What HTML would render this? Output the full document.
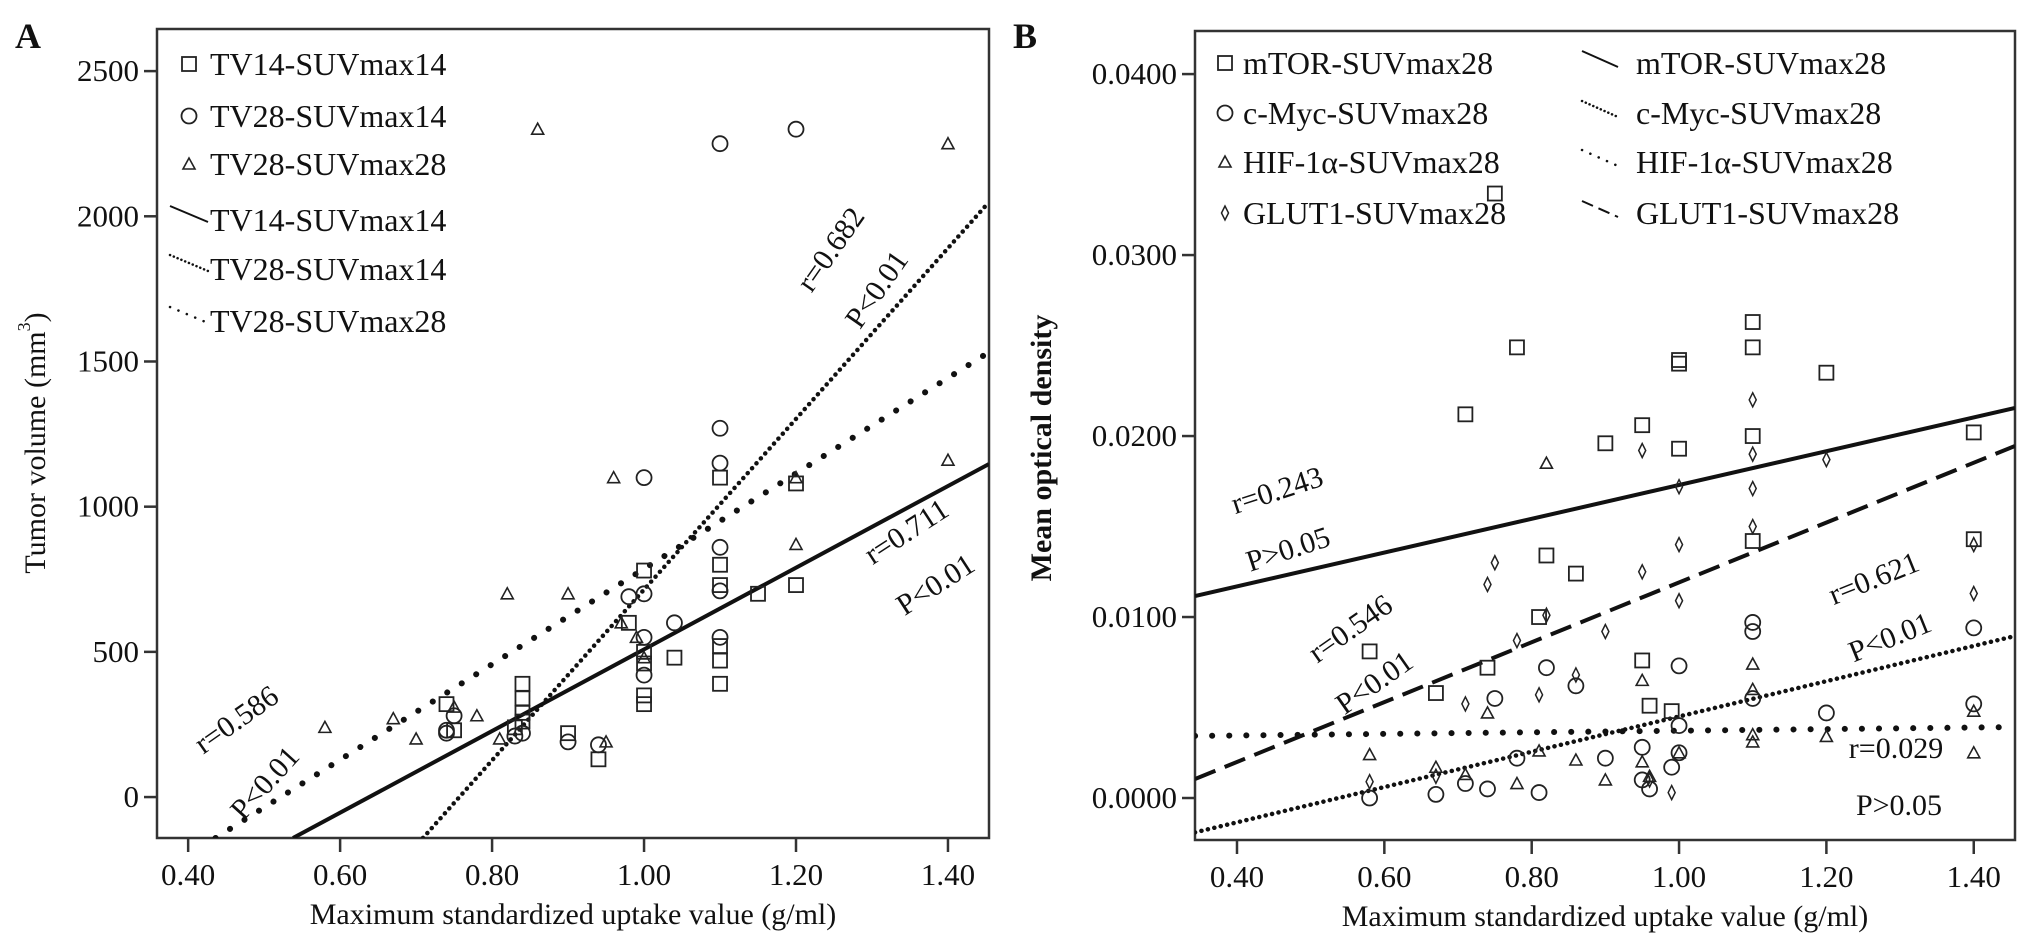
<!DOCTYPE html>
<html><head><meta charset="utf-8"><style>
html,body{margin:0;padding:0;background:#fff;}
svg{display:block;font-family:"Liberation Serif",serif;}
</style></head><body>
<svg id="chart" width="2031" height="947" viewBox="0 0 2031 947" xmlns="http://www.w3.org/2000/svg">
<g id="gA"></g>
<g id="gB"></g>
</svg>
<script>
// Panel A data
const aXTicks = [0.40, 0.60, 0.80, 1.00, 1.20, 1.40];
const aYTicks = [0, 500, 1000, 1500, 2000, 2500];
const aTV14 = [[0.74,320],[0.75,230],[0.84,390],[0.84,340],[0.84,290],[0.84,260],[0.83,240],[0.90,220],[0.94,130],[0.98,600],[1.00,780],[1.00,500],[1.00,460],[1.00,350],[1.00,320],[1.04,480],[1.10,1100],[1.10,800],[1.10,730],[1.10,520],[1.10,470],[1.10,390],[1.15,700],[1.20,1080],[1.20,730]];
const aTV28s14 = [[1.10,2250],[1.20,2300],[1.00,1100],[1.10,1270],[1.10,1150],[1.10,860],[1.10,710],[1.10,550],[1.00,700],[0.98,690],[1.04,600],[0.94,180],[0.90,190],[0.84,220],[0.83,210],[0.74,230],[0.75,280],[1.00,420],[1.00,550],[0.74,220]];
const aTV28s28 = [[0.86,2300],[1.40,2250],[0.96,1100],[1.40,1160],[1.20,870],[0.82,700],[0.90,700],[0.58,240],[0.67,270],[0.70,200],[0.75,310],[0.78,280],[0.81,200],[0.95,190],[0.99,550],[0.97,600],[1.00,480],[1.20,1100]];
const aFitTV14 = [0.538,-141,1.454,1147];
const aFitTV28s14 = [0.709,-141,1.454,2049];
const aFitTV28s28 = [0.436,-141,1.454,1532];
// Panel B data
const bXTicks = [0.40, 0.60, 0.80, 1.00, 1.20, 1.40];
const bYTicks = [0, 0.01, 0.02, 0.03, 0.04];
const bYTickLabels = ["0.0000","0.0100","0.0200","0.0300","0.0400"];
const bMTOR = [[0.58,0.0081],[0.67,0.0058],[0.71,0.0212],[0.74,0.0072],[0.75,0.0334],[0.78,0.0249],[0.81,0.0100],[0.82,0.0134],[0.86,0.0124],[0.90,0.0196],[0.95,0.0206],[0.95,0.0076],[0.96,0.0051],[0.99,0.0048],[1.00,0.0242],[1.00,0.0240],[1.00,0.0193],[1.10,0.0263],[1.10,0.0249],[1.10,0.0200],[1.10,0.0142],[1.20,0.0235],[1.40,0.0202],[1.40,0.0143]];
const bMYC = [[0.58,0.0000],[0.67,0.0002],[0.71,0.0008],[0.74,0.0005],[0.75,0.0055],[0.78,0.0022],[0.81,0.0003],[0.82,0.0072],[0.86,0.0062],[0.90,0.0022],[0.95,0.0028],[0.95,0.0010],[0.96,0.0005],[0.99,0.0017],[1.00,0.0073],[1.00,0.0040],[1.00,0.0025],[1.10,0.0097],[1.10,0.0092],[1.10,0.0055],[1.20,0.0047],[1.40,0.0094],[1.40,0.0052]];
const bHIF = [[0.58,0.0024],[0.67,0.0017],[0.71,0.0013],[0.74,0.0047],[0.78,0.0008],[0.81,0.0026],[0.82,0.0185],[0.86,0.0021],[0.90,0.0010],[0.95,0.0065],[0.95,0.0020],[0.96,0.0012],[1.00,0.0025],[1.10,0.0074],[1.10,0.0060],[1.10,0.0035],[1.10,0.0031],[1.20,0.0034],[1.40,0.0048],[1.40,0.0025]];
const bGLUT = [[0.58,0.0009],[0.67,0.0012],[0.71,0.0052],[0.74,0.0118],[0.75,0.0130],[0.78,0.0087],[0.81,0.0057],[0.82,0.0101],[0.86,0.0068],[0.90,0.0092],[0.95,0.0192],[0.95,0.0125],[0.96,0.0010],[0.99,0.0003],[1.00,0.0172],[1.00,0.0140],[1.00,0.0109],[1.10,0.0220],[1.10,0.0190],[1.10,0.0171],[1.10,0.0150],[1.20,0.0187],[1.40,0.0140],[1.40,0.0113]];
const bFitMTOR = [0.343,0.01116,1.456,0.02155];
const bFitMYC = [0.343,-0.0019,1.456,0.00895];
const bFitHIF = [0.343,0.00343,1.456,0.00392];
const bFitGLUT = [0.343,0.00105,1.456,0.01945];

const NS="http://www.w3.org/2000/svg";
function mk(parent,tag,attrs,text){const e=document.createElementNS(NS,tag);for(const k in attrs)e.setAttribute(k,attrs[k]);if(text!==undefined)e.textContent=text;parent.appendChild(e);return e;}
function scale(d0,d1,r0,r1){return v=>r0+(v-d0)/(d1-d0)*(r1-r0);}

function marker(g,type,cx,cy){
  let e;
  if(type==='sq') e=mk(g,'rect',{x:cx-7,y:cy-7,width:14,height:14,fill:'none',stroke:'#222','stroke-width':1.8});
  else if(type==='ci') e=mk(g,'circle',{cx:cx,cy:cy,r:7.5,fill:'none',stroke:'#222','stroke-width':1.8});
  else if(type==='tr') e=mk(g,'polygon',{points:`${cx},${cy-6} ${cx-6},${cy+5} ${cx+6},${cy+5}`,fill:'none',stroke:'#222','stroke-width':1.6});
  else e=mk(g,'polygon',{points:`${cx},${cy-7} ${cx-3.5},${cy} ${cx},${cy+7} ${cx+3.5},${cy}`,fill:'none',stroke:'#222','stroke-width':1.5});
  return e;
}
function rtext(g,txt,x,y,rot,name,size){
  const t=mk(g,'text',{x:x,y:y,'font-size':size||30,'text-anchor':'middle','dominant-baseline':'middle',fill:'#111',transform:`rotate(${rot} ${x} ${y})`},txt);
  
  
}
const dashes={solid:'',dense:'0.1 6.5',dashed:'22 10',loose:'0.1 17'};
const caps={solid:'butt',dashed:'butt',dense:'round',loose:'round'};

function panel(g,cfg){
  const sx=scale(cfg.xd[0],cfg.xd[1],cfg.L,cfg.R), sy=scale(cfg.yd[0],cfg.yd[1],cfg.B,cfg.T);
  const frame=mk(g,'rect',{x:cfg.L,y:cfg.T,width:cfg.R-cfg.L,height:cfg.B-cfg.T,fill:'none',stroke:'#333','stroke-width':2.5});
  
  
  cfg.xt.forEach(v=>{
    const x=sx(v);
    const tk=mk(g,'line',{x1:x,y1:cfg.B,x2:x,y2:cfg.B+14,stroke:'#333','stroke-width':2.5});
    
    
    const t=mk(g,'text',{x:x,y:cfg.B+47,'font-size':31,'text-anchor':'middle',fill:'#111'},v.toFixed(2));
    
    
  });
  cfg.yt.forEach((v,i)=>{
    const y=sy(v);
    const tk=mk(g,'line',{x1:cfg.L-13,y1:y,x2:cfg.L,y2:y,stroke:'#333','stroke-width':2.5});
    
    
    const t=mk(g,'text',{x:cfg.L-18,y:y+10,'font-size':31,'text-anchor':'end',fill:'#111'},cfg.ytl?cfg.ytl[i]:String(v));
    
    
  });
  const clip=mk(g,'clipPath',{id:cfg.id+'clip'});
  mk(clip,'rect',{x:cfg.L,y:cfg.T,width:cfg.R-cfg.L,height:cfg.B-cfg.T});
  const lg=mk(g,'g',{'clip-path':`url(#${cfg.id}clip)`});
  cfg.fits.forEach(f=>{
    const d=f.d;
    const ln=mk(lg,'line',{x1:sx(d[0]),y1:sy(d[1]),x2:sx(d[2]),y2:sy(d[3]),stroke:'#111','stroke-width':f.w||3.5,'stroke-dasharray':dashes[f.style],'stroke-linecap':caps[f.style]});
    
    
  });
  cfg.series.forEach(s=>{
    s.data.forEach(p=>{
      const m=marker(g,s.type,sx(p[0]),sy(p[1]));
      
      
    });
  });
  const xl=mk(g,'text',{x:(cfg.L+cfg.R)/2,y:cfg.B+86,'font-size':30,'text-anchor':'middle',fill:'#111'},'Maximum standardized uptake value (g/ml)');
  
  
}

// Panel A
const gA=document.getElementById('gA');
panel(gA,{id:'a',L:157,R:989,T:29,B:838,xd:[0.359,1.454],yd:[-141,2645],xt:aXTicks,yt:aYTicks,
  fits:[{d:aFitTV14,style:'solid',name:'fit-line-tv14-suvmax14',w:4},
        {d:aFitTV28s14,style:'dense',name:'fit-line-tv28-suvmax14',w:4.5},
        {d:aFitTV28s28,style:'loose',name:'fit-line-tv28-suvmax28',w:6}],
  series:[{data:aTV14,type:'sq',name:'point-tv14-suvmax14'},{data:aTV28s14,type:'ci',name:'point-tv28-suvmax14'},{data:aTV28s28,type:'tr',name:'point-tv28-suvmax28'}]});
// Panel B
const gB=document.getElementById('gB');
panel(gB,{id:'b',L:1195,R:2015,T:31,B:840,xd:[0.343,1.456],yd:[-0.00232,0.04238],xt:bXTicks,yt:bYTicks,ytl:bYTickLabels,
  fits:[{d:bFitMTOR,style:'solid',name:'fit-line-mtor',w:4},
        {d:bFitMYC,style:'dense',name:'fit-line-c-myc',w:4.5},
        {d:bFitHIF,style:'loose',name:'fit-line-hif-1a',w:6},
        {d:bFitGLUT,style:'dashed',name:'fit-line-glut1',w:4}],
  series:[{data:bMTOR,type:'sq',name:'point-mtor'},{data:bMYC,type:'ci',name:'point-c-myc'},{data:bHIF,type:'tr',name:'point-hif-1a'},{data:bGLUT,type:'di',name:'point-glut1'}]});

// Panel labels and axis titles
function txt(g,s,x,y,attrs,name){const t=mk(g,'text',Object.assign({x:x,y:y,fill:'#111'},attrs),s);return t;}
txt(gA,'A',15,48,{'font-size':36,'font-weight':'bold'},'panel-label-a');
txt(gB,'B',1013,48,{'font-size':36,'font-weight':'bold'},'panel-label-b');
const ya=txt(gA,'',38,443,{'font-size':30,'text-anchor':'middle',transform:'rotate(-90 38 443)','dominant-baseline':'middle'},'y-axis-title-a');
ya.innerHTML='Tumor volume (mm<tspan font-size="18" dy="-12">3</tspan><tspan dy="12">)</tspan>';
txt(gB,'Mean optical density',1044,448,{'font-size':30,'font-weight':'bold','text-anchor':'middle',transform:'rotate(-90 1044 448)','dominant-baseline':'middle'},'y-axis-title-b');

const legDash={solid:'',dense:'0.1 4',loose:'0.1 9',dashed:'12 6'};
// Legend A
const legA=[['sq','TV14-SUVmax14',64],['ci','TV28-SUVmax14',116],['tr','TV28-SUVmax28',164],['solid','TV14-SUVmax14',220],['dense','TV28-SUVmax14',269],['loose','TV28-SUVmax28',321]];
legA.forEach(l=>{
  const g=mk(gA,'g',{});
  
  
  if(['sq','ci','tr'].includes(l[0])) marker(g,l[0],189,l[2]);
  else mk(g,'line',{x1:170,y1:l[2]-14,x2:208,y2:l[2]+2,stroke:'#111','stroke-width':l[0]==='solid'?2:2.5,'stroke-linecap':l[0]==='solid'?'butt':'round','stroke-dasharray':legDash[l[0]]});
  mk(g,'text',{x:210,y:l[2]+11,'font-size':32,fill:'#111'},l[1]);
});
// Legend B
const legB=[['sq','mTOR-SUVmax28',63,'solid'],['ci','c-Myc-SUVmax28',113,'dense'],['tr','HIF-1\u03b1-SUVmax28',162,'loose'],['di','GLUT1-SUVmax28',213,'dashed']];
legB.forEach(l=>{
  const g=mk(gB,'g',{});
  
  
  marker(g,l[0],1225,l[2]);
  mk(g,'text',{x:1243,y:l[2]+11,'font-size':32,fill:'#111'},l[1]);
  const g2=mk(gB,'g',{});
  
  
  mk(g2,'line',{x1:1582,y1:l[2]-12,x2:1618,y2:l[2]+4,stroke:'#111','stroke-width':(l[3]==='solid'||l[3]==='dashed')?2:2.5,'stroke-linecap':(l[3]==='solid'||l[3]==='dashed')?'butt':'round','stroke-dasharray':legDash[l[3]]});
  mk(g2,'text',{x:1636,y:l[2]+11,'font-size':32,fill:'#111'},l[1]);
});

// Annotations
rtext(gA,'r=0.682',833,251,-55,'annotation-r-tv28-suvmax14');
rtext(gA,'P<0.01',879,291,-55,'annotation-p-tv28-suvmax14');
rtext(gA,'r=0.711',908,534,-33,'annotation-r-tv14');
rtext(gA,'P<0.01',937,587,-33,'annotation-p-tv14');
rtext(gA,'r=0.586',238,722,-35,'annotation-r-tv28-suvmax28');
rtext(gA,'P<0.01',267,785,-48,'annotation-p-tv28-suvmax28');
rtext(gB,'r=0.243',1278,493,-18,'annotation-r-mtor');
rtext(gB,'P>0.05',1289,552,-18,'annotation-p-mtor');
rtext(gB,'r=0.546',1352,631,-35,'annotation-r-glut1');
rtext(gB,'P<0.01',1376,685,-35,'annotation-p-glut1');
rtext(gB,'r=0.621',1875,581,-22,'annotation-r-c-myc');
rtext(gB,'P<0.01',1891,640,-22,'annotation-p-c-myc');
rtext(gB,'r=0.029',1896,751,0,'annotation-r-hif');
rtext(gB,'P>0.05',1899,808,0,'annotation-p-hif');
</script>
</body></html>
